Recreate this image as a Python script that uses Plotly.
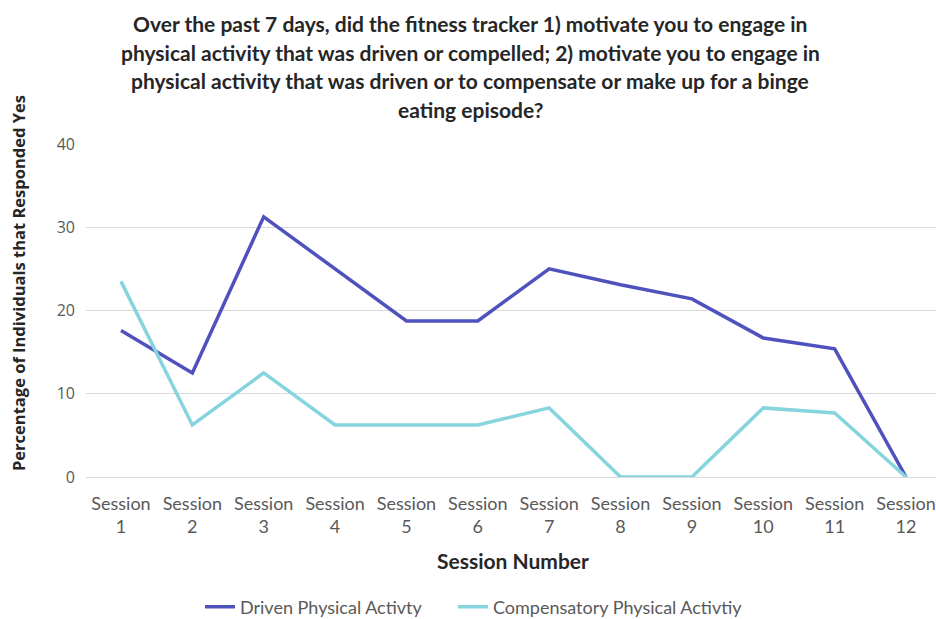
import plotly.graph_objects as go

sessions = ["Session<br>%d" % i for i in range(1, 13)]
driven = [17.6, 12.5, 31.25, 25.0, 18.75, 18.75, 25.0, 23.1, 21.4, 16.7, 15.4, 0]
compensatory = [23.5, 6.25, 12.5, 6.25, 6.25, 6.25, 8.3, 0, 0, 8.3, 7.7, 0]
title_lines = [
    "Over the past 7 days, did the fitness tracker 1) motivate you to engage in",
    "physical activity that was driven or compelled; 2) motivate you to engage in",
    "physical activity that was driven or to compensate or make up for a binge",
    "eating episode?",
]
y_ticks = [0, 10, 20, 30, 40]

W, H = 936, 619
L, R, T, B = 86, 0, 144, 142
PH = H - T - B
PW = W - L - R

def px_y(Y):
    return (H - B - Y) / PH

def px_x(X):
    return (X - L) / PW

FONT = "Lato"

fig = go.Figure()
fig.add_trace(go.Scatter(x=sessions, y=driven, mode="lines", name="Driven Physical Activty",
                         line=dict(color="#4F52BD", width=3.5), legend="legend"))
fig.add_trace(go.Scatter(x=sessions, y=compensatory, mode="lines", name="Compensatory Physical Activtiy",
                         line=dict(color="#86D4DE", width=3.5), legend="legend2"))

annotations = []
for i, (txt, Y) in enumerate(zip(title_lines, [24, 52, 81, 109])):
    annotations.append(dict(text="<b>%s</b>" % txt, x=px_x(470), y=px_y(Y), xref="paper", yref="paper",
                            xanchor="center", yanchor="middle", showarrow=False,
                            font=dict(family=FONT, size=21, color="#262626")))
annotations.append(dict(text="<b>Percentage of Individuals that Responded Yes</b>", x=px_x(18), y=px_y(283),
                        xref="paper", yref="paper", xanchor="center", yanchor="middle", textangle=-90,
                        showarrow=False, font=dict(family="Open Sans", size=16.5, color="#262626")))
annotations.append(dict(text="<b>Session Number</b>", x=px_x(513), y=px_y(560), xref="paper", yref="paper",
                        xanchor="center", yanchor="middle", showarrow=False,
                        font=dict(family=FONT, size=21, color="#262626")))

legend_style = dict(orientation="h", yanchor="middle", xanchor="left", y=px_y(607),
                    font=dict(family=FONT, size=18, color="#595959"), itemwidth=30,
                    bgcolor="rgba(0,0,0,0)")

fig.update_layout(
    width=W, height=H, margin=dict(l=L, r=R, t=T, b=B, autoexpand=False),
    paper_bgcolor="white", plot_bgcolor="white",
    annotations=annotations,
    showlegend=True,
    legend=dict(x=px_x(200), **legend_style),
    legend2=dict(x=px_x(453), **legend_style),
)
fig.update_xaxes(type="category", range=[-0.49, 11.42], showgrid=False, showline=False, ticks="",
                 tickfont=dict(family=FONT, size=18, color="#595959"),
                 ticklabelstandoff=14, automargin=False)
fig.update_yaxes(range=[0, 40], tickvals=y_ticks, showgrid=True, gridcolor="#D9D9D9", gridwidth=1,
                 zeroline=True, zerolinecolor="#D9D9D9", zerolinewidth=1, showline=False, ticks="",
                 tickfont=dict(family="Open Sans", size=16, color="#595959"), ticklabelstandoff=10,
                 automargin=False)

fig.write_html("out.html", config={"displayModeBar": False},
               post_script="document.body.style.margin='0';")
